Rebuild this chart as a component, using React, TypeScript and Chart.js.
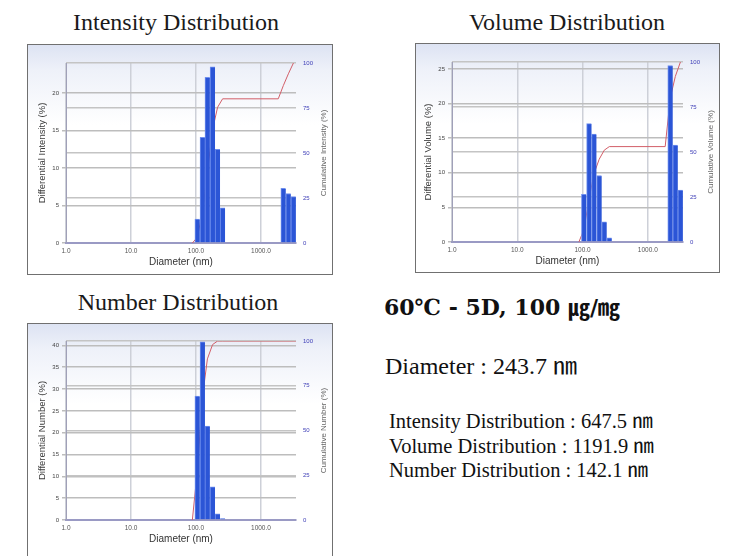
import React, { useEffect, useRef } from "react";
import { Chart, registerables } from "chart.js";

Chart.register(...registerables);

// ---------- data ----------
const xTickValues = [1, 10, 100, 1000];
const xMin = 1;
const xMax = 3460;

const intensityDiameters = [105, 126, 150, 180, 215, 257, 2207, 2640, 3158];
const intensityPercent = [3.2, 14.1, 22.1, 23.5, 12.5, 4.7, 7.3, 6.6, 6.2];
const intensityCumDiameters = [88, 105, 126, 150, 180, 215, 257, 1845, 2207, 2640, 3158];
const intensityCumPercent = [0, 3.2, 17.3, 39.4, 63.0, 75.4, 80.1, 80.1, 87.4, 94.0, 100];

const volumeDiameters = [105, 126, 150, 180, 215, 257, 2207, 2640, 3158];
const volumePercent = [6.9, 17.1, 15.6, 9.6, 2.9, 0.6, 25.5, 14.0, 7.5];
const volumeCumDiameters = [88, 105, 126, 150, 180, 215, 257, 1845, 2207, 2640, 3158];
const volumeCumPercent = [0, 7, 24, 38, 46, 51, 53, 53, 80, 92, 100];

const numberDiameters = [105, 126, 150, 180, 215, 257];
const numberPercent = [28.4, 40.8, 21.5, 7.6, 1.4, 0.3];
const numberCumDiameters = [88, 105, 126, 150, 180, 215, 257, 3460];
const numberCumPercent = [0, 28, 69, 90, 98, 100, 100, 100];

const FONT = '"Liberation Sans", Arial, sans-serif';

type ChartProps = {
  left: number;
  top: number;
  width: number;
  height: number;
  plot: { l: number; t: number; r: number; b: number };
  diameters: number[];
  values: number[];
  cumDiameters: number[];
  cumValues: number[];
  yMax: number;
  yTitle: string;
  y2Title: string;
};

function DistChart(p: ChartProps) {
  const ref = useRef<HTMLCanvasElement>(null);
  useEffect(() => {
    const canvas = ref.current;
    if (!canvas) return;
    const titles = {
      id: "axisTitles",
      afterDraw(chart: any) {
        const { ctx, chartArea: a } = chart;
        const cy = (a.top + a.bottom) / 2;
        ctx.save();
        ctx.textAlign = "center";
        ctx.textBaseline = "middle";
        ctx.fillStyle = "#3a3a3a";
        ctx.font = `9.5px ${FONT}`;
        ctx.save();
        ctx.translate(a.left - 24, cy);
        ctx.rotate(-Math.PI / 2);
        ctx.fillText(p.yTitle, 0, 0);
        ctx.restore();
        ctx.fillStyle = "#666";
        ctx.font = `8px ${FONT}`;
        ctx.save();
        ctx.translate(a.right + 28, cy);
        ctx.rotate(-Math.PI / 2);
        ctx.fillText(p.y2Title, 0, 0);
        ctx.restore();
        ctx.fillStyle = "#333";
        ctx.font = `10px ${FONT}`;
        ctx.fillText("Diameter (nm)", (a.left + a.right) / 2, a.bottom + 19);
        ctx.restore();
      },
    };
    const chart = new Chart(canvas, {
      type: "bar",
      data: {
        datasets: [
          {
            type: "bar",
            data: p.diameters.map((d, i) => ({ x: d, y: p.values[i] })),
            backgroundColor: "#2b55d6",
            borderColor: "#6f8fee",
            borderWidth: { left: 1, right: 0, top: 1, bottom: 0 },
            borderSkipped: false,
            barPercentage: 1,
            categoryPercentage: 1,
            xAxisID: "x",
            yAxisID: "y",
            order: 1,
          } as any,
          {
            type: "line",
            data: p.cumDiameters.map((d, i) => ({ x: d, y: p.cumValues[i] })),
            borderColor: "#d25e68",
            borderWidth: 1,
            pointRadius: 0,
            tension: 0,
            xAxisID: "x",
            yAxisID: "y2",
            order: 2,
          } as any,
        ],
      },
      options: {
        responsive: false,
        animation: false,
        events: [],
        layout: { padding: { top: p.plot.t, left: 0, right: 0, bottom: 0 } },
        plugins: { legend: { display: false }, tooltip: { enabled: false } },
        scales: {
          x: {
            type: "logarithmic",
            position: "bottom",
            min: xMin,
            max: xMax,
            offset: false,
            afterBuildTicks: (s: any) => {
              s.ticks = xTickValues.map((v) => ({ value: v }));
            },
            afterFit: (s: any) => {
              s.height = p.height - p.plot.b;
            },
            ticks: {
              callback: (v: any) => Number(v).toFixed(1),
              font: { size: 6.5, family: FONT },
              color: "#555",
              padding: 4,
              maxRotation: 0,
              autoSkip: false,
            },
            grid: { color: "#cdd0d8", lineWidth: 1.5, drawTicks: false, offset: false },
            border: { color: "#9a9ac4", width: 2 },
          },
          y: {
            type: "linear",
            position: "left",
            min: 0,
            max: p.yMax,
            afterFit: (s: any) => {
              s.width = p.plot.l;
            },
            ticks: {
              stepSize: 5,
              includeBounds: false,
              font: { size: 6, family: FONT },
              color: "#444",
              padding: 3,
            },
            grid: { color: "#bdbdbd", lineWidth: 1.5, drawTicks: true, tickLength: 4 },
            border: { color: "#a0a0b8", width: 1 },
          },
          y2: {
            type: "linear",
            position: "right",
            min: 0,
            max: 100,
            afterFit: (s: any) => {
              s.width = p.width - p.plot.r;
            },
            ticks: {
              stepSize: 25,
              font: { size: 6, family: FONT },
              color: "#4040b8",
              padding: 7,
            },
            grid: { color: "#c4c4c4", lineWidth: 1.5, drawTicks: false },
            border: { display: false },
          },
        },
      } as any,
      plugins: [titles],
    });
    return () => chart.destroy();
  }, []);
  return (
    <canvas
      ref={ref}
      width={p.width}
      height={p.height}
      style={{ position: "absolute", left: p.left, top: p.top, width: p.width, height: p.height }}
    />
  );
}

function Box(props: { left: number; top: number; width: number; height: number }) {
  return (
    <div
      style={{
        position: "absolute",
        left: props.left,
        top: props.top,
        width: props.width,
        height: props.height,
        boxSizing: "border-box",
        border: "1px solid #707070",
        background: "linear-gradient(to bottom, #dde3f3 0px, #eef1f9 25px, #ffffff 80px)",
      }}
    />
  );
}

const titleStyle = (cx: number, top: number): React.CSSProperties => ({
  position: "absolute",
  left: cx - 150,
  width: 300,
  top,
  textAlign: "center",
  fontFamily: '"Liberation Serif", serif',
  fontSize: 24,
  lineHeight: "24px",
  color: "#1a1a1a",
  whiteSpace: "nowrap",
});

const textStyle = (left: number, top: number, size: number): React.CSSProperties => ({
  position: "absolute",
  left,
  top,
  fontFamily: '"Liberation Serif", "Noto Sans CJK KR", serif',
  fontSize: size,
  lineHeight: `${size}px`,
  color: "#111",
  whiteSpace: "nowrap",
});

export default function App() {
  return (
    <div
      style={{
        position: "absolute",
        left: 0,
        top: 0,
        width: 731,
        height: 556,
        overflow: "hidden",
        background: "#fff",
      }}
    >
      <div style={titleStyle(176, 10)}>Intensity Distribution</div>
      <div style={titleStyle(567, 10)}>Volume Distribution</div>
      <div style={titleStyle(178, 290)}>Number Distribution</div>

      <Box left={27} top={44} width={306} height={231} />
      <Box left={415} top={43} width={305} height={230} />
      <Box left={27} top={323} width={306} height={245} />

      <DistChart
        left={28}
        top={45}
        width={304}
        height={229}
        plot={{ l: 38, t: 18, r: 268, b: 198 }}
        diameters={intensityDiameters}
        values={intensityPercent}
        cumDiameters={intensityCumDiameters}
        cumValues={intensityCumPercent}
        yMax={24}
        yTitle="Differential Intensity (%)"
        y2Title="Cumulative Intensity (%)"
      />
      <DistChart
        left={416}
        top={44}
        width={303}
        height={228}
        plot={{ l: 36, t: 18, r: 267, b: 198 }}
        diameters={volumeDiameters}
        values={volumePercent}
        cumDiameters={volumeCumDiameters}
        cumValues={volumeCumPercent}
        yMax={26}
        yTitle="Differential Volume (%)"
        y2Title="Cumulative Volume (%)"
      />
      <DistChart
        left={28}
        top={324}
        width={304}
        height={232}
        plot={{ l: 38, t: 17, r: 268, b: 196 }}
        diameters={numberDiameters}
        values={numberPercent}
        cumDiameters={numberCumDiameters}
        cumValues={numberCumPercent}
        yMax={41}
        yTitle="Differential Number (%)"
        y2Title="Cumulative Number (%)"
      />

      <div
        style={{
          position: "absolute",
          left: 384,
          top: 296,
          fontFamily: '"DejaVu Serif", "Noto Sans CJK KR", serif',
          fontWeight: "bold",
          fontSize: 22,
          lineHeight: "22px",
          color: "#111",
          whiteSpace: "nowrap",
        }}
      >
        60℃ - 5D, 100 ㎍/㎎
      </div>
      <div style={textStyle(385, 354, 24)}>Diameter : 243.7 ㎚</div>
      <div style={textStyle(389, 411, 20.5)}>Intensity Distribution : 647.5 ㎚</div>
      <div style={textStyle(389, 436, 20.5)}>Volume Distribution : 1191.9 ㎚</div>
      <div style={textStyle(389, 460, 20.5)}>Number Distribution : 142.1 ㎚</div>
    </div>
  );
}
